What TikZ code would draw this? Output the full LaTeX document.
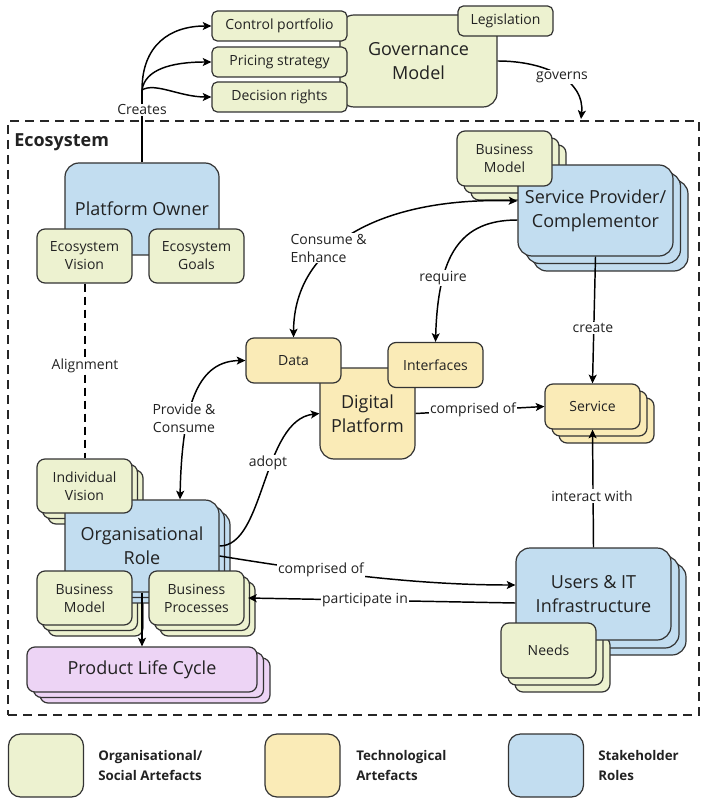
\documentclass[tikz,border=0pt]{standalone}
\usepackage{fontspec}
\setmainfont{Open Sans}
\usetikzlibrary{arrows.meta,calc}
\definecolor{gfill}{RGB}{237,242,208}
\definecolor{yfill}{RGB}{250,235,183}
\definecolor{bfill}{RGB}{194,221,240}
\definecolor{pfill}{RGB}{237,212,245}
\definecolor{bd}{RGB}{51,51,51}
\definecolor{tx}{RGB}{34,34,34}
\newcommand\smf{\fontsize{10.5}{13.5}\selectfont}
\newcommand\bgf{\fontsize{13.5}{18}\selectfont}
\begin{document}
\begin{tikzpicture}[x=0.75pt,y=-0.75pt,
  box/.style={draw=bd,line width=0.9pt,inner sep=0pt,align=center,text=tx,font=\smf},
  wh/.style 2 args={minimum width=#1*0.75pt,minimum height=#2*0.75pt},
  gbox/.style={box,fill=gfill}, ybox/.style={box,fill=yfill},
  bbox/.style={box,fill=bfill}, pbox/.style={box,fill=pfill},
  rs/.style={rounded corners=4pt}, rm/.style={rounded corners=6pt}, rl/.style={rounded corners=10.5pt},
  conn/.style={line width=1.1pt,draw=black},
  arr/.style={conn,-{Stealth[length=6.5pt,width=6pt,inset=1.5pt]}},
  darr/.style={conn,{Stealth[length=6.5pt,width=6pt,inset=1.5pt]}-{Stealth[length=6.5pt,width=6pt,inset=1.5pt]}},
  lbl/.style={fill=white,inner sep=1pt,text=tx,font=\smf,align=center},
  legtext/.style={anchor=west,inner sep=0pt,align=left,text=tx,font=\fontsize{10}{15}\selectfont\bfseries},
]
\useasboundingbox (0,0) rectangle (702,798);

% ecosystem frame
\node[draw=black!85,line width=1.5pt,dash pattern=on 6.75pt off 4.5pt,wh={691}{594},inner sep=0pt] (eco) at (353.5,418) {};
\node[anchor=west,inner sep=0pt,text=tx,font=\fontsize{13.5}{16}\selectfont\bfseries] (ecot) at (14,142) {Ecosystem};

% governance
\node[gbox,rl,wh={157}{92},font=\bgf] (gov) at (418.5,61) {Governance\\Model};
\node[gbox,rs,wh={135}{30}] (cp) at (279.5,26) {Control portfolio};
\node[gbox,rs,wh={135}{30}] (ps) at (279.5,62) {Pricing strategy};
\node[gbox,rs,wh={135}{30}] (dr) at (279.5,97) {Decision rights};
\node[gbox,rs,wh={95}{30}] (leg) at (505.5,21) {Legislation};

% platform owner
\node[bbox,rl,wh={154}{92},font=\bgf] (po) at (142,209) {Platform Owner};
\node[gbox,rm,wh={95}{54}] (ev) at (84.5,256) {Ecosystem\\Vision};
\node[gbox,rm,wh={95}{54}] (eg) at (196.5,256) {Ecosystem\\Goals};

% digital platform
\node[ybox,rl,wh={95}{91},font=\bgf] (dp) at (367.5,413.5) {Digital\\Platform};
\node[ybox,rm,wh={95}{45}] (data) at (293.5,360.5) {Data};
\node[ybox,rm,wh={95}{45}] (intf) at (435.5,365) {Interfaces};

% service
\node[ybox,rm,wh={95}{45}] (svc3) at (606.5,420.5) {};
\node[ybox,rm,wh={95}{45}] (svc2) at (599.5,413.5) {};
\node[ybox,rm,wh={95}{45}] (svc) at (592.5,406.5) {Service};

% service provider
\node[gbox,rm,wh={95}{55}] (spbm3) at (518.5,172.5) {};
\node[gbox,rm,wh={95}{55}] (spbm2) at (511.5,165.5) {};
\node[bbox,rl,wh={155}{91}] (sp3) at (610.5,225.5) {};
\node[bbox,rl,wh={155}{91}] (sp2) at (603,218) {};
\node[bbox,rl,wh={155}{91},font=\bgf] (sp) at (595.5,210.5) {Service Provider/\\Complementor};
\node[gbox,rm,wh={95}{55}] (spbm) at (504.5,158.5) {Business\\Model};

% users
\node[bbox,rl,wh={155}{92}] (usr3) at (608.5,609) {};
\node[bbox,rl,wh={155}{92}] (usr2) at (601.5,602) {};
\node[gbox,rm,wh={95}{55}] (nd3) at (562.5,664.5) {};
\node[gbox,rm,wh={95}{55}] (nd2) at (555.5,657.5) {};
\node[bbox,rl,wh={155}{92},font=\bgf] (usr) at (593.5,594) {Users \& IT\\Infrastructure};
\node[gbox,rm,wh={95}{55}] (nd) at (548.5,650.5) {Needs};

% organisational role
\node[gbox,rm,wh={95}{54}] (iv3) at (95.5,497) {};
\node[gbox,rm,wh={95}{54}] (iv2) at (90,491.5) {};
\node[gbox,rm,wh={95}{54}] (bm3) at (95.5,609) {};
\node[gbox,rm,wh={95}{54}] (bm2) at (90,603.5) {};
\node[gbox,rm,wh={95}{54}] (bp3) at (207.5,609) {};
\node[gbox,rm,wh={95}{54}] (bp2) at (202,603.5) {};
\node[bbox,rl,wh={154}{92}] (or3) at (153,557) {};
\node[bbox,rl,wh={154}{92}] (or2) at (147.5,551.5) {};
\node[bbox,rl,wh={154}{92},font=\bgf] (or) at (142,546) {Organisational\\Role};
\node[gbox,rm,wh={95}{54}] (iv) at (84.5,486) {Individual\\Vision};
\node[gbox,rm,wh={95}{54}] (bm) at (84.5,598) {Business\\Model};
\node[gbox,rm,wh={95}{54}] (bp) at (196.5,598) {Business\\Processes};

% product life cycle
\node[pbox,rm,wh={230}{45}] (plc3) at (155,680.5) {};
\node[pbox,rm,wh={230}{45}] (plc2) at (148.5,675) {};
\node[pbox,rm,wh={230}{45},font=\bgf] (plc) at (142,669.5) {Product Life Cycle};

% legend
\node[gbox,rounded corners=9pt,wh={75}{63}] (lg1) at (46,765.5) {};
\node[ybox,rounded corners=9pt,wh={75}{63}] (lg2) at (302.5,765.5) {};
\node[bbox,rounded corners=9pt,wh={75}{63}] (lg3) at (546,765.5) {};
\node[legtext] (lt1) at (98,765) {Organisational/\\Social Artefacts};
\node[legtext] (lt2) at (356,765) {Technological\\Artefacts};
\node[legtext] (lt3) at (598,765) {Stakeholder\\Roles};

% connectors
\coordinate (crj) at (142,90);
\draw[conn] (po.north) -- (crj);
\draw[arr] (crj) .. controls (142,45) and (170,26) .. (cp.west);
\draw[arr] (crj) .. controls (145,70) and (170,62) .. (ps.west);
\draw[arr] (crj) .. controls (155,82) and (180,97) .. (dr.west);
\node[lbl] (crl) at (142,110) {Creates};

\coordinate (gve) at (581,119);
\draw[arr] (gov.east) .. controls (545,61) and (585,80) .. (gve);
\node[lbl] (gvl) at (562,77) {governs};

\draw[darr] (data.north) .. controls (294,240) and (390,197) .. ($(sp.west)+(0,-9.5)$);
\node[lbl,anchor=west,align=left] (cel) at (289,248) {Consume \&\\Enhance};

\draw[arr] ($(sp.west)+(0,9.5)$) .. controls (460,220) and (438,255) .. (intf.north);
\node[lbl] (rql) at (443,278) {require};

\draw[arr] (sp.south) -- (svc.north);
\node[lbl] (crtl) at (593,328) {create};

\draw[arr] (dp.east) -- (svc.west);
\node[lbl] (cpl1) at (473,410) {comprised of};

\draw[arr] (usr.north) -- (svc.south);
\node[lbl] (iwl) at (592,496) {interact with};

\draw[darr] ($(or.north)+(38,0)$) .. controls (182,400) and (200,361) .. (data.west);
\node[lbl] (pcl) at (184,418) {Provide \&\\Consume};

\draw[arr] (or.east) .. controls (265,546) and (262,420) .. (dp.west);
\node[lbl] (adl) at (268,463) {adopt};

\draw[arr] ($(or.east)+(0,10)$) .. controls (330,574) and (420,585) .. ($(usr.west)+(0,-9)$);
\node[lbl] (cpl2) at (321,570) {comprised of};

\draw[arr] ($(usr.west)+(0,9)$) -- ($(bp.east)+(3.5,0)$);
\node[lbl] (pil) at (365,600) {participate in};

\draw[conn,line width=1.5pt,dash pattern=on 6pt off 3.75pt] (ev.south) -- (iv.north);
\node[lbl] (all) at (85,366) {Alignment};

\draw[arr] (or.south) -- (plc.north);
\end{tikzpicture}
\end{document}
